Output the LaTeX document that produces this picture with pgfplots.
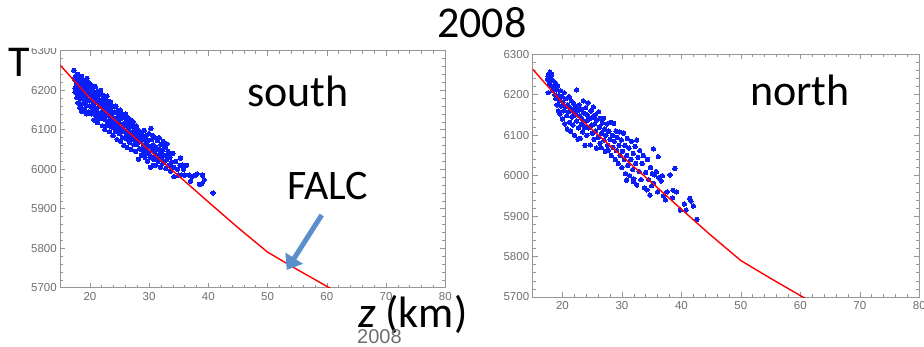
\documentclass[border=0pt]{standalone}
\usepackage{pgfplots}
\usepackage{pgfplotstable}
\pgfplotsset{compat=1.18}
\usetikzlibrary{arrows.meta}
\usepackage{fontspec}
\setmainfont{Carlito}
\newfontfamily\arialf{Liberation Sans}
\definecolor{tickgray}{RGB}{110,110,110}
\definecolor{framegray}{RGB}{150,150,150}
\definecolor{arrowblue}{RGB}{91,143,201}
\definecolor{dotblue}{RGB}{10,30,250}

\pgfplotstableread{
x y
15 6263
20 6180
25 6114
30 6048
35 5983
40 5917
45 5852
50 5790
55 5746
61 5695
}\falc

\pgfplotstableread{
x y
17.3 6250
17.4 6228
17.5 6205
17.5 6195
17.6 6236
17.7 6215
17.8 6182
17.8 6225
17.9 6200
18.0 6240
18.0 6168
18.1 6210
18.1 6195
18.2 6190
18.2 6232
18.3 6155
18.3 6225
18.4 6218
18.4 6178
18.5 6200
18.6 6235
18.6 6146
18.7 6165
18.8 6212
18.8 6188
18.9 6226
18.9 6180
19.0 6170
19.0 6198
19.1 6152
19.2 6220
19.2 6183
19.3 6208
19.3 6192
19.4 6162
19.4 6140
19.5 6192
19.5 6230
19.6 6175
19.6 6212
19.7 6208
19.8 6145
19.8 6190
19.9 6218
20.0 6160
20.0 6200
20.1 6175
20.1 6188
20.2 6212
20.3 6140
20.3 6190
20.4 6160
20.4 6150
20.5 6205
20.5 6165
20.6 6178
20.7 6125
20.7 6195
20.8 6150
20.9 6210
20.9 6145
21.0 6168
21.0 6135
21.1 6185
21.2 6155
21.2 6180
21.3 6198
21.3 6118
21.4 6170
21.5 6142
21.6 6188
21.6 6130
21.7 6160
21.8 6128
21.8 6200
21.9 6175
21.9 6135
22.0 6145
22.0 6175
22.1 6110
22.1 6168
22.2 6188
22.3 6135
22.3 6158
22.4 6155
22.5 6178
22.5 6100
22.6 6125
22.7 6165
22.7 6140
22.8 6145
22.8 6110
22.9 6185
23.0 6118
23.0 6160
23.1 6135
23.1 6150
23.2 6172
23.3 6095
23.3 6112
23.4 6150
23.4 6132
23.5 6125
23.5 6170
23.6 6108
23.7 6142
23.8 6160
23.8 6118
23.9 6085
24.0 6130
24.0 6158
24.0 6105
24.1 6112
24.2 6145
24.2 6120
24.3 6095
24.4 6160
24.5 6128
24.5 6100
24.6 6075
24.6 6105
24.7 6148
24.8 6120
24.8 6140
24.9 6138
25.0 6090
25.1 6150
25.1 6112
25.2 6070
25.2 6105
25.3 6128
25.4 6098
25.5 6140
25.5 6080
25.6 6115
25.6 6095
25.7 6060
25.8 6130
25.9 6095
26.0 6110
26.0 6140
26.1 6078
26.1 6118
26.2 6120
26.2 6090
26.3 6055
26.4 6100
26.4 6075
26.5 6130
26.5 6085
26.6 6112
26.7 6068
26.8 6095
26.8 6110
26.9 6125
27.0 6050
27.0 6080
27.1 6108
27.2 6092
27.2 6075
27.3 6120
27.4 6062
27.5 6100
27.5 6085
27.6 6078
27.7 6045
27.8 6110
27.8 6070
27.9 6090
27.9 6062
28.0 6065
28.1 6100
28.2 6025
28.2 6088
28.3 6080
28.4 6052
28.5 6095
28.6 6070
28.6 6050
28.7 6035
28.8 6088
28.9 6075
29.0 6060
29.0 6045
29.1 6078
29.1 6040
29.2 6098
29.3 6030
29.3 6050
29.4 6065
29.5 6085
29.6 6050
29.7 6020
29.7 6062
29.8 6072
29.9 6040
30.0 6090
30.0 6038
30.1 6058
30.2 6005
30.3 6103
30.3 6030
30.4 6075
30.4 6058
30.5 6048
30.6 6085
30.7 6062
30.7 6010
30.8 6025
30.9 6045
30.9 6030
31.0 6080
31.1 6010
31.2 6055
31.3 6035
31.3 6050
31.4 6072
31.5 6020
31.6 6050
31.7 6080
31.7 6028
31.8 6040
31.9 6005
32.0 6062
32.1 6030
32.2 6048
32.2 6040
32.3 6015
32.4 6070
32.6 6035
32.6 6020
32.7 6055
32.8 6002
33.0 6064
33.0 6025
33.1 6035
33.2 6045
33.3 6010
33.5 6030
33.6 5995
33.7 6008
33.8 6018
34.0 6040
34.2 5981
34.2 6005
34.5 6020
34.8 6000
35.0 5985
35.2 6010
35.3 6028
35.4 5985
35.6 6011
35.8 6000
36.0 5985
36.3 6010
36.8 5985
37.0 5970
37.3 5982
37.8 5985
38.1 5988
38.5 5962
38.9 5963
39.0 5985
39.3 5973
40.8 5940
}\south

\pgfplotstableread{
x y
17.5 6238
17.6 6245
17.6 6205
17.7 6252
17.8 6230
17.9 6256
18.0 6240
18.1 6222
18.2 6250
18.3 6210
18.4 6235
18.6 6218
18.7 6200
18.8 6230
18.9 6190
19.0 6212
19.1 6175
19.2 6222
19.3 6160
19.4 6198
19.5 6185
19.6 6152
19.7 6210
19.8 6172
19.9 6195
20.0 6140
20.1 6182
20.2 6160
20.3 6205
20.4 6128
20.5 6170
20.6 6190
20.7 6148
20.8 6115
20.9 6175
21.0 6158
21.1 6195
21.2 6132
21.3 6168
21.4 6110
21.5 6185
21.6 6145
21.7 6160
21.8 6125
21.9 6178
22.0 6100
22.1 6150
22.2 6170
22.4 6212
22.4 6135
22.5 6160
22.6 6090
22.7 6118
22.8 6175
22.9 6148
23.0 6092
23.1 6165
23.2 6128
23.3 6140
23.4 6108
23.5 6185
23.6 6155
23.7 6120
23.8 6075
23.9 6168
24.0 6135
24.1 6100
24.2 6150
24.3 6180
24.4 6118
24.5 6140
24.7 6076
24.8 6160
24.9 6125
25.0 6105
25.1 6145
25.2 6170
25.3 6090
25.4 6128
25.5 6150
25.6 6110
25.7 6068
25.8 6138
26.0 6095
26.1 6158
26.2 6120
26.3 6080
26.4 6142
26.5 6069
26.6 6105
26.7 6130
26.9 6142
27.0 6088
27.1 6115
27.2 6060
27.3 6100
27.5 6128
27.6 6075
27.7 6063
27.8 6110
28.0 6090
28.1 6132
28.2 6050
28.4 6100
28.5 6070
28.6 6129
28.7 6085
28.9 6040
29.0 6110
29.1 6062
29.2 6095
29.4 6030
29.5 6075
29.6 6108
29.7 6050
29.9 6088
30.0 6020
30.1 6060
30.3 6105
30.4 6040
30.5 6075
30.6 6005
30.8 5989
30.8 6050
30.9 6092
31.0 6025
31.2 6068
31.3 6000
31.5 6040
31.6 6085
31.8 6015
31.9 5985
31.9 6055
32.0 5992
32.2 6072
32.3 6030
32.5 6088
32.5 5977
32.7 6045
32.9 6010
33.0 6062
33.2 5990
33.4 6030
33.6 6050
33.8 5970
34.0 6008
34.2 5965
34.3 6040
34.5 5990
34.7 5952
34.8 6020
35.0 5975
35.1 6005
35.3 6066
35.3 5981
35.5 6002
35.8 6010
36.0 5960
36.1 6047
36.2 5995
36.6 5987
36.8 6000
37.0 5950
37.3 5940
37.6 5960
38.1 6002
38.5 5945
38.6 5964
38.9 6018
39.2 5960
39.8 5915
40.5 5930
40.8 5915
41.4 5944
41.6 5937
42.0 5925
42.6 5892
}\north

\pgfplotsset{mystyle/.style={
  scale only axis, anchor=south west,
  xmin=15, xmax=80, ymin=5700, ymax=6300,
  xtick={20,30,...,80}, ytick={5700,5800,...,6300},
  minor x tick num=4, minor y tick num=4,
  tick align=inside, tick pos=both,
  major tick length=5pt, minor tick length=3pt,
  axis line style={framegray, line width=0.8pt},
  tick style={framegray, line width=0.6pt},
  ticklabel style={font=\arialf\fontsize{11.5}{12}\selectfont, text=tickgray},
  /pgf/number format/assume math mode=true,
  /pgf/number format/set thousands separator={},
  xticklabel style={yshift=-1pt},
  clip=true, clip marker paths=true,
}}

\begin{document}
\begin{tikzpicture}[x=1pt,y=1pt]
\path[use as bounding box] (0,0) rectangle (924,346);

\begin{axis}[mystyle, at={(60.3pt,58.3pt)}, width=385pt, height=237pt]
\addplot[dotblue, only marks, mark=*, mark size=2.2pt, mark options={draw=dotblue, fill=dotblue, line width=0pt}] table {\south};
\addplot[red, line width=1.4pt, mark=none] table {\falc};
\end{axis}

\begin{axis}[mystyle, at={(532.7pt,49pt)}, width=386.6pt, height=242.7pt]
\addplot[dotblue, only marks, mark=*, mark size=2.2pt, mark options={draw=dotblue, fill=dotblue, line width=0pt}] table {\north};
\addplot[red, line width=1.4pt, mark=none] table {\falc};
\end{axis}

\fill[white] (0,298) rectangle (58,346);
\node[anchor=base west, inner sep=0] at (437,308) {\fontsize{44}{48}\selectfont 2008};
\node[anchor=base west, inner sep=0] at (8,269) {\fontsize{44}{48}\selectfont T};
\node[anchor=base west, inner sep=0] at (247,239) {\fontsize{44}{48}\selectfont south};
\node[anchor=base west, inner sep=0] at (750,240) {\fontsize{44}{48}\selectfont north};
\node[anchor=base west, inner sep=0] at (287,147) {\fontsize{42}{46}\selectfont FALC};
\node[anchor=base west, inner sep=0] at (358,19) {\fontsize{44}{48}\selectfont \textit{z} (km)};
\node[anchor=base west, inner sep=0, text=tickgray] at (357,3) {\arialf\fontsize{20}{22}\selectfont 2008};
\draw[arrowblue, line width=5pt, -{Triangle[width=20pt,length=14pt]}] (321.7,131) -- (286.7,76);
\end{tikzpicture}
\end{document}
